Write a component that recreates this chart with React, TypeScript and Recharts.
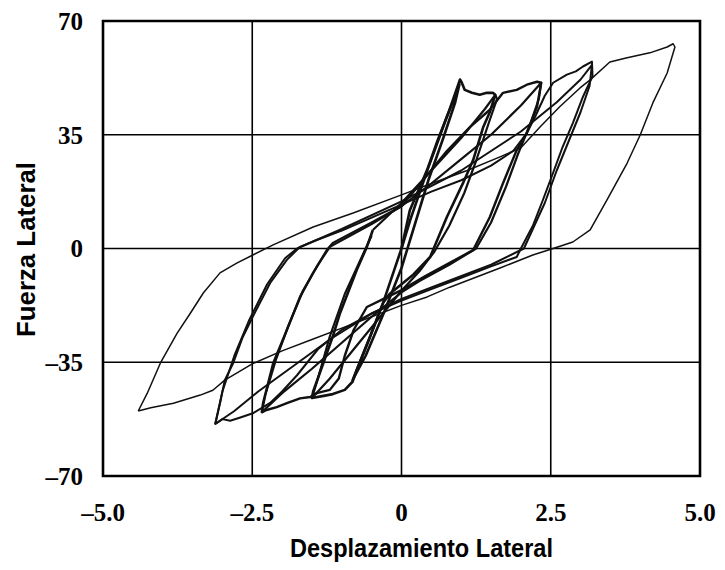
import React from 'react';
import {
  LineChart,
  Line,
  XAxis,
  YAxis,
  CartesianGrid,
  ReferenceArea,
} from 'recharts';

// Ejes
const xTicks = [-5, -2.5, 0, 2.5, 5];
const xTickLabels = ['–5.0', '–2.5', '0', '2.5', '5.0'];
const yTicks = [-70, -35, 0, 35, 70];
const yTickLabels = ['–70', '–35', '0', '35', '70'];

// Ciclo elástico inicial (desplazamiento, fuerza)
const loop0X = [0, -0.31, -0.53, -0.75, -0.82, -0.6, -0.3, 0, 0.2, 0.45, 0.7, 0.9, 0.97, 0.75, 0.45, 0.15, 0];
const loop0Y = [0, -16.8, -27.3, -37.4, -40.5, -33, -20, -6, 6, 21, 34, 45, 50.5, 40, 25, 9, 0];

// Ciclo 1
const loop1X = [0, 0.14, 0.43, 0.6, 0.8, 0.98, 1.01, 1.06, 1.18, 1.31, 1.43, 1.53, 1.57, 1.48, 1.37, 1.2, 1.03, 0.76, 0.48, 0.2, 0, -0.2, -0.31, -0.53, -0.75, -0.82, -0.95, -1.15, -1.35, -1.5, -1.48, -1.31, -1.15, -1.03, -0.75, -0.58, -0.48];
const loop1Y = [0, 11.8, 24.2, 33, 42.5, 52, 51, 48.8, 47.9, 47.3, 47.9, 47.9, 47.3, 42, 37.4, 27.2, 20.1, 9.7, -2.6, -8, -11, -14, -16.8, -27.3, -37.4, -41, -43.5, -44.8, -45.5, -46, -44, -35.3, -27, -19.9, -6.6, 0.5, 5.7];

// Ciclo 1, repetición
const loop1bX = [-0.48, 0, 0.5, 1, 1.4, 1.57, 1.6, 1.45, 1.25, 1.05, 0.8, 0.55, 0.3, 0, -0.4, -0.8, -1.2, -1.5, -1.4, -1.2, -0.95, -0.7, -0.5];
const loop1bY = [5.7, 14, 24, 34, 43, 47.3, 46, 38, 27, 17, 7, -1, -7, -13, -22, -31, -40, -46, -40, -27, -14, -4, 4];

// Ciclo 2
const loop2X = [-2.34, -2.32, -2.15, -1.92, -1.7, -1.48, -1.25, -1.15, -0.5, 0, 0.36, 0.76, 1.15, 1.48, 1.7, 1.93, 2.1, 2.27, 2.34, 2.27, 2.1, 1.93, 1.7, 1.48, 1.2, 0.8, 0.4, 0, -0.3, -0.58, -0.8, -0.95, -1.05, -1.2, -1.42, -1.53, -1.7, -1.92, -2.09, -2.26, -2.34];
const loop2Y = [-50.4, -47.6, -35.3, -25.1, -14.9, -7.5, -0.5, 1.7, 8, 13, 21, 30, 37.4, 42.7, 47.9, 48.8, 50.4, 51.3, 51, 43.6, 35.6, 30.3, 20.1, 9.7, -0.5, -4.5, -8.5, -12.8, -15.5, -18, -25, -33, -40, -43.5, -44.5, -45.7, -46.1, -47.6, -48.8, -49.7, -50.4];

// Ciclo 2, repetición
const loop2bX = [-1.2, -0.5, 0, 0.5, 1, 1.5, 2, 2.34, 2.3, 2.15, 1.95, 1.75, 1.5, 1.25, 0.8, 0.3, 0, -0.5, -1, -1.5, -2, -2.34, -2.28, -2.1, -1.9, -1.65, -1.4, -1.2];
const loop2bY = [0.5, 7.5, 13, 20, 27.5, 35, 44, 51, 46, 38, 29, 19, 8, 0, -5, -10, -13.5, -21, -29, -37, -44.5, -50.4, -45, -34, -24, -13, -5, 0.5];

// Ciclo 3
const loop3X = [-3.12, -3.04, -2.96, -2.82, -2.66, -2.46, -2.2, -1.92, -1.7, -1.42, -1, -0.5, 0, 0.5, 1, 1.5, 1.87, 2.1, 2.25, 2.4, 2.54, 2.77, 2.92, 3.04, 3.19, 3.2, 3.04, 2.87, 2.7, 2.54, 2.37, 2.2, 2, 1.93, 1.5, 1, 0.5, 0, -0.5, -1, -1.4, -1.75, -2, -2.2, -2.49, -2.7, -2.87, -3, -3.12];
const loop3Y = [-54, -47.6, -40.5, -35.3, -27.3, -19.9, -10.6, -3.5, 0.5, 2.6, 5.5, 9.5, 13.5, 17.5, 21, 25.5, 30, 35.5, 41, 47, 51, 53.5, 54.5, 56, 57.5, 53, 46.7, 38.6, 31.3, 23.3, 15, 7, 0, -2.6, -5.5, -9, -12.5, -16, -20, -25, -31, -39, -44, -47.5, -50.7, -52, -53, -52.5, -54];

// Ciclo 3, repetición
const loop3bX = [-1.75, -1, 0, 1, 2, 2.6, 3, 3.19, 3.15, 3, 2.8, 2.6, 2.4, 2.2, 2.05, 1.5, 0.5, 0, -0.5, -1.2, -1.8, -2.4, -2.8, -3.12, -3, -2.8, -2.55, -2.25, -1.95, -1.75];
const loop3bY = [0, 6, 14.5, 24, 36, 45, 52, 56.5, 50, 42, 33, 24, 14, 6, 0, -5, -12, -15.5, -20, -28, -36, -44, -50, -54, -44, -33, -22, -11, -3, 0];

// Ciclo 4 (exterior)
const loop4X = [-4.41, -4.26, -4.04, -3.76, -3.54, -3.32, -3.04, -2.76, -2.49, -2.15, -1.48, -0.81, 0, 0.5, 1.1, 1.65, 2, 2.32, 2.65, 2.99, 3.16, 3.49, 3.78, 4.16, 4.45, 4.55, 4.58, 4.45, 4.21, 4, 3.78, 3.44, 3.16, 2.87, 2.54, 2.2, 1.65, 0.81, 0.43, 0, -0.5, -1, -1.5, -2, -2.5, -2.96, -3.16, -3.37, -3.82, -4.2, -4.41];
const loop4Y = [-50, -44.6, -35.3, -26.1, -20, -13.7, -7.5, -4.5, -2, 1.1, 6.6, 10.9, 16.5, 20, 24, 28.2, 31, 37.4, 43.6, 49.4, 51.9, 57.4, 58.7, 60.2, 62, 63, 62, 54, 44.8, 35, 26.3, 14.9, 5.7, 2, 0, -2, -6, -11.9, -14.9, -17.5, -21, -24.5, -28, -31.5, -35.5, -40.5, -43.6, -45.1, -47.6, -49, -50];

const toRows = (xs: number[], ys: number[]) => xs.map((x, i) => ({ x, y: ys[i] }));

const loops = [
  { name: 'ciclo0', data: toRows(loop0X, loop0Y), width: 2.6 },
  { name: 'ciclo1', data: toRows(loop1X, loop1Y), width: 2.6 },
  { name: 'ciclo1b', data: toRows(loop1bX, loop1bY), width: 2.2 },
  { name: 'ciclo2', data: toRows(loop2X, loop2Y), width: 2.4 },
  { name: 'ciclo2b', data: toRows(loop2bX, loop2bY), width: 2.2 },
  { name: 'ciclo3', data: toRows(loop3X, loop3Y), width: 2.0 },
  { name: 'ciclo3b', data: toRows(loop3bX, loop3bY), width: 2.0 },
  { name: 'ciclo4', data: toRows(loop4X, loop4Y), width: 1.5 },
];

const tickFont = {
  fontFamily: '"Liberation Serif", serif',
  fontSize: 25,
  fontWeight: 700,
  fill: '#000',
};

const titleFont = {
  fontFamily: '"Liberation Sans", Arial, sans-serif',
  fontSize: 25,
  fontWeight: 700,
  fill: '#000',
};

const XTitle = (props: any) => {
  const { x, y, width, height } = props.viewBox;
  return (
    <text
      x={x + width / 2 + 20}
      y={y + height - 13}
      textAnchor="middle"
      textLength={263}
      lengthAdjust="spacingAndGlyphs"
      style={titleFont}
    >
      Desplazamiento Lateral
    </text>
  );
};

const YTitle = (props: any) => {
  const { y, height } = props.viewBox;
  const cx = 35;
  const cy = y + height / 2 + 1;
  return (
    <text
      x={cx}
      y={cy}
      transform={`rotate(-90 ${cx} ${cy})`}
      textAnchor="middle"
      textLength={175}
      lengthAdjust="spacingAndGlyphs"
      style={titleFont}
    >
      Fuerza Lateral
    </text>
  );
};

export default function App() {
  return (
    <div style={{ position: 'absolute', left: 0, top: 0, background: '#fff' }}>
      <LineChart
        width={725}
        height={570}
        margin={{ top: 21, right: 25, bottom: 0, left: 0 }}
      >
        <CartesianGrid stroke="#000" strokeWidth={1.6} />
        <XAxis
          type="number"
          dataKey="x"
          domain={[-5, 5]}
          ticks={xTicks}
          tickFormatter={(v: number) => xTickLabels[xTicks.indexOf(v)]}
          axisLine={false}
          tickLine={false}
          tickSize={0}
          tickMargin={27}
          height={94}
          tick={tickFont}
          label={{ content: XTitle }}
        />
        <YAxis
          type="number"
          domain={[-70, 70]}
          ticks={yTicks}
          tickFormatter={(v: number) => yTickLabels[yTicks.indexOf(v)]}
          axisLine={false}
          tickLine={false}
          tickSize={0}
          tickMargin={20}
          width={103}
          tick={tickFont}
          label={{ content: YTitle }}
        />
        <ReferenceArea
          x1={-5}
          x2={5}
          y1={-70}
          y2={70}
          fill="none"
          fillOpacity={0}
          stroke="#000"
          strokeWidth={2.6}
        />
        {loops.map((l) => (
          <Line
            key={l.name}
            data={l.data}
            dataKey="y"
            type="linear"
            stroke="#111"
            strokeWidth={l.width}
            strokeLinejoin="round"
            dot={false}
            activeDot={false}
            isAnimationActive={false}
          />
        ))}
      </LineChart>
    </div>
  );
}
